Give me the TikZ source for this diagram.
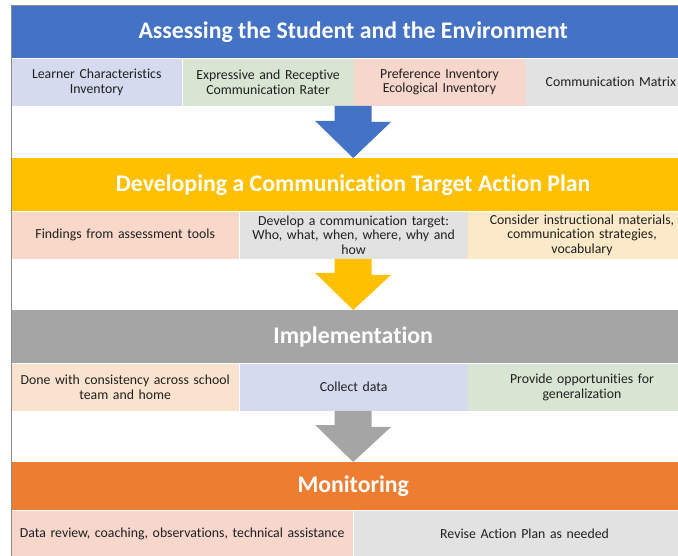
\documentclass[tikz,border=0pt]{standalone}
\usepackage{fontspec}
\setmainfont{Carlito}[Ligatures=NoCommon]
\usetikzlibrary{positioning,calc}

\definecolor{assessblue}{HTML}{4472C4}
\definecolor{devyellow}{HTML}{FFC000}
\definecolor{implgray}{HTML}{A5A5A5}
\definecolor{monorange}{HTML}{ED7D31}
\definecolor{cellblue}{HTML}{D5DAEE}
\definecolor{cellgreen}{HTML}{D9E5D3}
\definecolor{cellpink}{HTML}{F7D6CC}
\definecolor{cellgray}{HTML}{E2E2E2}
\definecolor{cellpeach}{HTML}{F9D8C9}
\definecolor{cellcream}{HTML}{FCE9C7}
\definecolor{cellsand}{HTML}{FAE3CE}
\definecolor{framegray}{HTML}{8C8C8C}

\tikzset{
  band/.style={rectangle, anchor=north west, minimum width=684pt, minimum height=53pt,
    inner sep=0pt, text=white, font=\fontsize{23.8}{28}\selectfont\bfseries},
  cell/.style={rectangle, minimum width=#1, text width=#1, minimum height=47pt,
    inner xsep=0pt, inner ysep=1pt, align=center, text=black!88,
    font=\fontsize{13.8}{14.6}\selectfont},
}

\begin{document}
\begin{tikzpicture}[x=1pt,y=-1pt]
  \useasboundingbox (0,0) rectangle (678,556);
  \clip (0,0) rectangle (678,556);

  % stage bands
  \node[band, fill=assessblue] (assess) at (11,5) {Assessing the Student and the Environment};
  \node[band, fill=devyellow] (develop) at (11,158) {Developing a Communication Target Action Plan};
  \node[band, fill=implgray] (implement) at (11,310) {Implementation};
  \node[band, fill=monorange, minimum height=48pt] (monitor) at (11,462) {Monitoring};

  % assessing
  \node[cell=171pt, fill=cellblue, anchor=north west] (a1) at (assess.south west) {Learner Characteristics\\Inventory};
  \node[cell=171pt, fill=cellgreen, right=0pt of a1] (a2) {Expressive and Receptive\\Communication Rater};
  \node[cell=171pt, fill=cellpink, right=0pt of a2] (a3) {Preference Inventory\\Ecological Inventory};
  \node[cell=171pt, fill=cellgray, right=0pt of a3] (a4) {Communication Matrix};

  % developing
  \node[cell=228pt, fill=cellpeach, anchor=north west] (d1) at (develop.south west) {Findings from assessment tools};
  \node[cell=228pt, fill=cellgray, right=0pt of d1] (d2) {Develop a communication target:\\Who, what, when, where, why and\\how};
  \node[cell=228pt, fill=cellcream, right=0pt of d2] (d3) {Consider instructional materials,\\communication strategies,\\vocabulary};

  % implementation
  \node[cell=228pt, fill=cellsand, anchor=north west] (i1) at (implement.south west) {Done with consistency across school\\team and home};
  \node[cell=228pt, fill=cellblue, right=0pt of i1] (i2) {Collect data};
  \node[cell=228pt, fill=cellgreen, right=0pt of i2] (i3) {Provide opportunities for\\generalization};

  % monitoring
  \node[cell=342pt, fill=cellpink, anchor=north west] (m1) at (monitor.south west) {Data review, coaching, observations, technical assistance};
  \node[cell=342pt, fill=cellgray, right=0pt of m1] (m2) {Revise Action Plan as needed};

  % block arrows between stages
  \foreach \from/\row/\to/\col in {assess/a1/develop/assessblue, develop/d1/implement/devyellow, implement/i1/monitor/implgray}
    \fill[\col] ($(\from.south |- \row.south)+(-18.5,0)$) -- ++(37,0) -- ++(0,16) -- ++(19.5,0)
      -- (\to.north) -- ++(-38,-37) -- ++(19.5,0) -- cycle;

  \draw[framegray, line width=0.8pt] (11,556) -- (11,5) -- (678,5);
\end{tikzpicture}
\end{document}
